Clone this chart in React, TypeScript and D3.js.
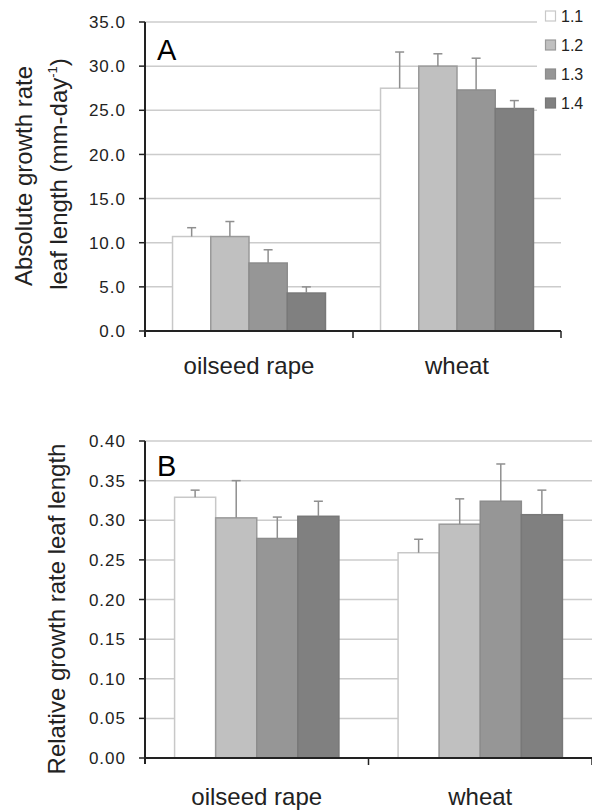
import React from "react";
import * as d3 from "d3";

const categories = ["oilseed rape", "wheat"];
const series = ["1.1", "1.2", "1.3", "1.4"];

// Panel A: absolute growth rate (mean, mean+error)
const absMean = [
  [10.7, 10.7, 7.7, 4.3],
  [27.5, 30.0, 27.3, 25.2],
];
const absErrTop = [
  [11.7, 12.4, 9.2, 5.0],
  [31.6, 31.4, 30.9, 26.1],
];
const absTicks = [0, 5, 10, 15, 20, 25, 30, 35];

// Panel B: relative growth rate
const relMean = [
  [0.329, 0.303, 0.277, 0.305],
  [0.259, 0.295, 0.324, 0.307],
];
const relErrTop = [
  [0.338, 0.350, 0.304, 0.324],
  [0.276, 0.327, 0.371, 0.338],
];
const relTicks = [0, 0.05, 0.1, 0.15, 0.2, 0.25, 0.3, 0.35, 0.4];

const fills = ["#ffffff", "#c0c0c0", "#969696", "#808080"];
const strokes = ["#c8c8c8", "#9a9a9a", "#8c8c8c", "#787878"];
const errColor = "#8f8f8f";
const gridColor = "#cccccc";
const axisColor = "#222";
const textColor = "#222";
const font = "'Liberation Sans', Arial, sans-serif";

type PanelProps = {
  means: number[][];
  errs: number[][];
  ticks: number[];
  domainMax: number;
  yTop: number;
  yBottom: number;
  xLeft: number;
  xRight: number;
  fmt: (v: number) => string;
  labelY: number;
  letter: string;
  letterY: number;
  gridRight?: (v: number) => number;
};

function Panel(p: PanelProps) {
  const y = d3.scaleLinear().domain([0, p.domainMax]).range([p.yBottom, p.yTop]);
  const x0 = d3.scaleBand<string>().domain(categories).range([p.xLeft, p.xRight]).paddingInner(0).paddingOuter(0);
  const x1 = d3.scaleBand<string>().domain(series).range([0, x0.bandwidth()]).paddingInner(0).paddingOuter(0.72);
  const capHalf = 4.5;
  return (
    <g>
      {p.ticks.map((t) => (
        <g key={t}>
          {t > 0 && (
            <line x1={p.xLeft} x2={p.gridRight ? p.gridRight(t) : p.xRight} y1={y(t)} y2={y(t)} stroke={gridColor} strokeWidth={1.5} />
          )}
          <line x1={p.xLeft - 6} x2={p.xLeft} y1={y(t)} y2={y(t)} stroke={axisColor} strokeWidth={1.5} />
          <text x={p.xLeft - 19} y={y(t)} dy="0.36em" textAnchor="end" fontFamily={font} fontSize={17} letterSpacing={1} fill={textColor}>
            {p.fmt(t)}
          </text>
        </g>
      ))}
      {categories.map((c, ci) => (
        <g key={c}>
          {series.map((s, si) => {
            const bx = (x0(c) as number) + (x1(s) as number);
            const bw = x1.bandwidth();
            const cx = bx + bw / 2;
            const top = y(p.means[ci][si]);
            const et = y(p.errs[ci][si]);
            return (
              <g key={s}>
                <rect x={bx} y={top} width={bw} height={p.yBottom - top} fill={fills[si]} stroke={strokes[si]} strokeWidth={1.5} />
                <line x1={cx} x2={cx} y1={top} y2={et} stroke={errColor} strokeWidth={1.5} />
                <line x1={cx - capHalf} x2={cx + capHalf} y1={et} y2={et} stroke={errColor} strokeWidth={1.5} />
              </g>
            );
          })}
          <text x={(x0(c) as number) + x0.bandwidth() / 2} y={p.labelY} textAnchor="middle" fontFamily={font} fontSize={24} fill={textColor}>
            {c}
          </text>
        </g>
      ))}
      <line x1={p.xLeft} x2={p.xLeft} y1={p.yTop} y2={p.yBottom + 6} stroke={axisColor} strokeWidth={2} />
      <line x1={p.xLeft} x2={p.xRight} y1={p.yBottom} y2={p.yBottom} stroke={axisColor} strokeWidth={2} />
      {categories.slice(1).map((c) => (
        <line key={c} x1={x0(c) as number} x2={x0(c) as number} y1={p.yBottom} y2={p.yBottom + 7} stroke={axisColor} strokeWidth={1.5} />
      ))}
      <line x1={p.xRight} x2={p.xRight} y1={p.yBottom} y2={p.yBottom + 7} stroke={axisColor} strokeWidth={1.5} />
      <text x={p.xLeft + 12} y={p.letterY} fontFamily={font} fontSize={29} fill="#000">
        {p.letter}
      </text>
    </g>
  );
}

export default function App() {
  return (
    <svg width={592} height={810} style={{ position: "absolute", left: 0, top: 0, background: "#fff" }}>
      <rect width={592} height={810} fill="#fff" />
      <Panel
        means={absMean}
        errs={absErrTop}
        ticks={absTicks}
        domainMax={35}
        yTop={22}
        yBottom={331}
        xLeft={145}
        xRight={561}
        fmt={(v) => v.toFixed(1)}
        labelY={374}
        letter="A"
        letterY={60}
        gridRight={(v) => (v >= 25 ? 537 : 561)}
      />
      {/* legend */}
      <g>
        {series.map((s, i) => (
          <g key={s} transform={`translate(545, ${16 + i * 29})`}>
            <rect x={0.5} y={-5} width={10} height={10} fill={fills[i]} stroke={strokes[i]} strokeWidth={1.2} />
            <text x={16} y={0} dy="0.36em" fontFamily={font} fontSize={16} fill={textColor}>
              {s}
            </text>
          </g>
        ))}
      </g>
      {/* Y title A */}
      <g transform="translate(32, 176) rotate(-90)">
        <text x={0} y={0} textAnchor="middle" fontFamily={font} fontSize={24} fill={textColor}>
          Absolute growth rate
        </text>
      </g>
      <g transform="translate(67, 174) rotate(-90)">
        <text x={0} y={0} textAnchor="middle" fontFamily={font} fontSize={24} fill={textColor}>
          leaf length (mm-day
          <tspan fontSize={13} dy={-10}>-1</tspan>
          <tspan dy={10}>)</tspan>
        </text>
      </g>

      <Panel
        means={relMean}
        errs={relErrTop}
        ticks={relTicks}
        domainMax={0.4}
        yTop={441}
        yBottom={758}
        xLeft={145}
        xRight={592}
        fmt={(v) => v.toFixed(2)}
        labelY={805}
        letter="B"
        letterY={476}
      />
      <g transform="translate(65, 609) rotate(-90)">
        <text x={0} y={0} textAnchor="middle" fontFamily={font} fontSize={24} fill={textColor}>
          Relative growth rate leaf length
        </text>
      </g>
    </svg>
  );
}
